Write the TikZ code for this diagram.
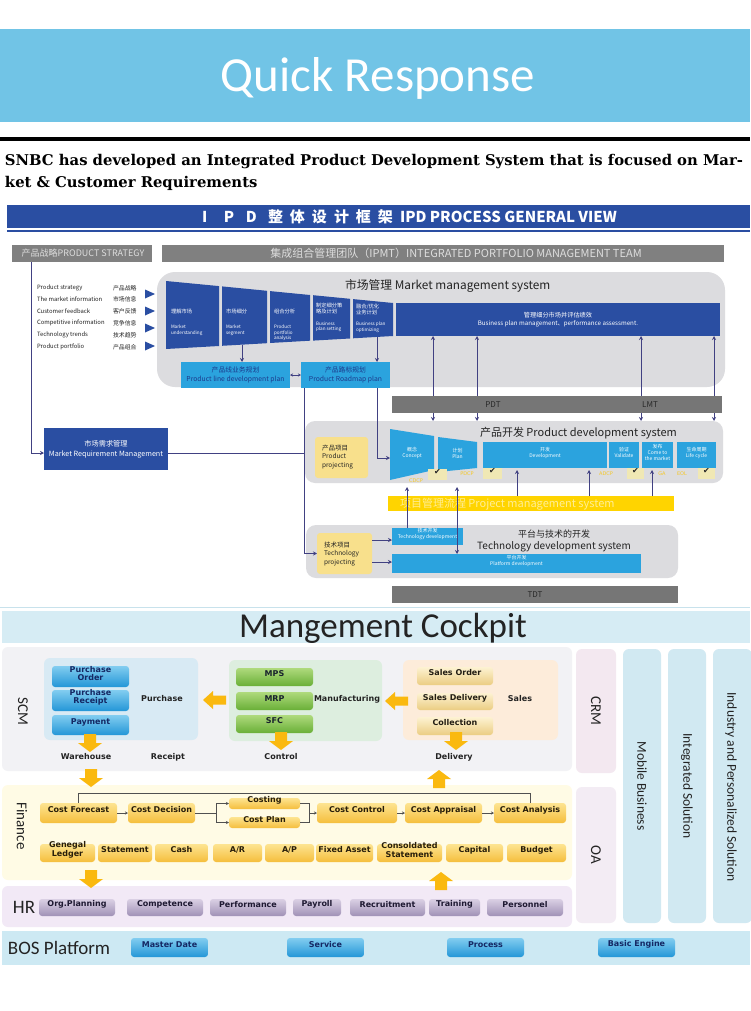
\documentclass[tikz,border=0pt]{standalone}
\usepackage{fontspec}
\setmainfont{Carlito}
\newfontfamily\cjk{Noto Sans CJK SC}
\newfontfamily\dvs{DejaVu Sans}
\newfontfamily\dvserif{DejaVu Serif}
\usetikzlibrary{arrows.meta,fit,calc}
\newcommand\fsz[2]{\fontsize{#1}{#2}\selectfont}
\newcommand\cel[1]{\makebox[22pt][l]{#1}}
\definecolor{qblue}{RGB}{113,196,230}
\definecolor{ipdblue}{RGB}{42,78,162}
\definecolor{hdrgray}{RGB}{128,128,128}
\definecolor{hdrtxt}{RGB}{222,222,222}
\definecolor{bggray}{RGB}{220,220,223}
\definecolor{lblue}{RGB}{43,163,222}
\definecolor{lbtxt}{RGB}{28,58,140}
\definecolor{pyellow}{RGB}{248,224,140}
\definecolor{pmyellow}{RGB}{255,212,0}
\definecolor{pmtxt}{RGB}{255,238,150}
\definecolor{pdtgray}{RGB}{118,118,118}
\definecolor{pdttxt}{RGB}{40,40,40}
\definecolor{linec}{RGB}{65,65,130}
\definecolor{txtdark}{RGB}{35,35,35}
\definecolor{chkfill}{RGB}{240,232,180}
\definecolor{msyellow}{RGB}{245,200,40}
\definecolor{sepc}{RGB}{200,226,236}
\definecolor{ckband}{RGB}{214,236,244}
\definecolor{scmbg}{RGB}{242,242,245}
\definecolor{purbg}{RGB}{216,234,244}
\definecolor{manbg}{RGB}{221,238,223}
\definecolor{salbg}{RGB}{253,236,218}
\definecolor{finbg}{RGB}{255,251,229}
\definecolor{hrbg}{RGB}{242,233,246}
\definecolor{bosbg}{RGB}{205,233,243}
\definecolor{crmbg}{RGB}{243,232,240}
\definecolor{oabg}{RGB}{243,236,244}
\definecolor{colbg}{RGB}{209,233,242}
\definecolor{yarrow}{RGB}{250,185,15}
\definecolor{bba}{RGB}{130,205,240}
\definecolor{bbb}{RGB}{35,150,215}
\definecolor{bbtxt}{RGB}{20,40,100}
\definecolor{gba}{RGB}{175,218,125}
\definecolor{gbb}{RGB}{105,175,55}
\definecolor{gbtxt}{RGB}{25,35,45}
\definecolor{sba}{RGB}{253,242,210}
\definecolor{sbb}{RGB}{235,205,130}
\definecolor{sbtxt}{RGB}{35,30,20}
\definecolor{fba}{RGB}{253,228,145}
\definecolor{fbb}{RGB}{245,190,60}
\definecolor{fbtxt}{RGB}{40,30,10}
\definecolor{hba}{RGB}{218,208,228}
\definecolor{hbb}{RGB}{160,145,182}
\definecolor{hbtxt}{RGB}{30,25,50}
\definecolor{flowc}{RGB}{80,80,80}
\newcommand\fatL[2]{\fill[yarrow] (#1,#2) -- ++(10,-9) -- ++(0,4.5) -- ++(13,0) -- ++(0,9) -- ++(-13,0) -- ++(0,4.5) -- cycle;}
\newcommand\fatD[2]{\fill[yarrow] (#1,#2) -- ++(-12,-9) -- ++(6,0) -- ++(0,-9) -- ++(12,0) -- ++(0,9) -- ++(6,0) -- cycle;}
\newcommand\fatU[2]{\fill[yarrow] (#1,#2) -- ++(-12,9) -- ++(6,0) -- ++(0,9) -- ++(12,0) -- ++(0,-9) -- ++(6,0) -- cycle;}
\begin{document}
\begin{tikzpicture}[x=1pt,y=-1pt,
  bx/.style={inner sep=0pt,outer sep=0pt},
  ipdw/.style={bx,font=\cjk,text=white,align=center},
  ln/.style={draw=linec,line width=0.9pt},
  arr/.style={ln,arrows={-Stealth[length=4pt,width=4pt]}},
  darr/.style={ln,arrows={Stealth[length=4pt,width=4pt]-Stealth[length=4pt,width=4pt]}},
  grayhdr/.style={bx,fill=hdrgray},
  lbbox/.style={bx,fill=lblue,text=white,font=\cjk\fsz{5}{6},align=center},
  pyel/.style={bx,fill=pyellow,rounded corners=3pt},
  grp/.style={bx,rounded corners=6pt},
  btn/.style={bx,rounded corners=3pt,font=\dvs\bfseries\fsz{8}{8.4},align=center},
  bbtn/.style={btn,top color=bba,bottom color=bbb,text=bbtxt},
  gbtn/.style={btn,top color=gba,bottom color=gbb,text=gbtxt},
  sbtn/.style={btn,top color=sba,bottom color=sbb,text=sbtxt},
  fbtn/.style={btn,top color=fba,bottom color=fbb,text=fbtxt},
  hbtn/.style={btn,top color=hba,bottom color=hbb,text=hbtxt},
  lbl/.style={bx,font=\dvs\bfseries\fsz{8}{8},text=txtdark},
  sect/.style={bx,font=\fsz{15}{15},text=txtdark},
  col/.style={bx,font=\fsz{13.5}{13.5},text=txtdark},
  flow/.style={draw=flowc,line width=0.7pt},
  farr/.style={flow,arrows={-Stealth[length=3pt,width=3pt]}},
  chk/.style={bx,fill=chkfill,font=\dvs\fsz{8}{8},text=txtdark},
  ms/.style={bx,font=\dvs\fsz{5}{5},text=msyellow},
  blk/.style={bx,font=\cjk\fsz{5.3}{6.2},text=white,align=left,anchor=north west},
  blke/.style={bx,font=\cjk\fsz{4.6}{5.4},text=white,align=left,anchor=north west},
]
\useasboundingbox (0,0) rectangle (750,1011);
\fill[white] (0,0) rectangle (750,1011);

% ---------- header ----------
\fill[qblue] (0,29) rectangle (750,122);
\node[bx,text=white,font=\fsz{49}{49}] (qr) at (378,78) {Quick Response};
\fill[black] (0,137) rectangle (750,141);
\node[bx,anchor=base west,font=\dvserif\bfseries\fsz{14.8}{14.8}] (snbc1) at (5,166) {SNBC has developed an Integrated Product Development System that is focused on Mar-};
\node[bx,anchor=base west,font=\dvserif\bfseries\fsz{14.8}{14.8}] (snbc2) at (5,187) {ket \& Customer Requirements};

% ---------- IPD banner ----------
\node[bx,fill=ipdblue,fit={(7,205)(750,228)}] (ipdbar) {};
\node[bx,anchor=west,text=white,font=\cjk\bfseries\fsz{15}{15}] (ipdt) at (202,216.5) {\cel{I}\cel{P}\cel{D}\cel{整}\cel{体}\cel{设}\cel{计}\cel{框}\cel{架}IPD PROCESS GENERAL VIEW};
\fill[ipdblue] (7,230) rectangle (750,232);

\node[grayhdr,fit={(12,245)(152,262)}] (ps) {};
\node[bx,text=hdrtxt,font=\cjk\fsz{9}{9}] (pst) at (83,253.5) {产品战略PRODUCT STRATEGY};
\node[grayhdr,fit={(162,245)(724,262)}] (ipmt) {};
\node[bx,text=hdrtxt,font=\cjk\fsz{11}{11}] (ipmtt) at (456,253.5) {集成组合管理团队（IPMT）INTEGRATED PORTFOLIO MANAGEMENT TEAM};

% left list
\foreach \y/\e/\c [count=\i] in {288/Product strategy/产品战略,299.5/The market information/市场信息,311/Customer feedback/客户反馈,323/Competitive information/竞争信息,335/Technology trends/技术趋势,347/Product portfolio/产品组合}{
  \node[bx,anchor=west,font=\cjk\fsz{5.9}{5.9},text=txtdark] (le\i) at (37,\y) {\e};
  \node[bx,anchor=west,font=\cjk\fsz{5.9}{5.9},text=txtdark] (lc\i) at (113,\y) {\c};
}
\foreach \y in {294,311,328,346}{
  \fill[ipdblue] (145,\y-4.5) -- (155,\y) -- (145,\y+4.5) -- cycle;
}

% market management system
\node[bx,fill=bggray,rounded corners=18pt,fit={(157,272)(725,387)}] (mms) {};
\node[bx,anchor=west,font=\cjk\fsz{11.8}{11.8},text=txtdark] (mmst) at (345,286) {市场管理 Market management system};
\fill[ipdblue] (166,281) -- (219,286.1) -- (219,346) -- (166,349) -- cycle;
\fill[ipdblue] (222,286.4) -- (267,290.8) -- (267,343.2) -- (222,345.8) -- cycle;
\fill[ipdblue] (270,291.1) -- (310,295) -- (310,340.7) -- (270,343) -- cycle;
\fill[ipdblue] (313,295.2) -- (350,298.8) -- (350,338.5) -- (313,340.6) -- cycle;
\fill[ipdblue] (353,299.1) -- (393,303) -- (393,336) -- (353,338.3) -- cycle;
\node[blk] (b1c) at (171,309) {理解市场};
\node[blke] (b1e) at (171,325) {Market\\understanding};
\node[blk] (b2c) at (226,309) {市场细分};
\node[blke] (b2e) at (226,325) {Market\\segment};
\node[blk] (b3c) at (274,309) {组合分析};
\node[blke] (b3e) at (274,325) {Product\\portfolio\\analysis};
\node[blk] (b4c) at (316,303) {制定细分策\\略及计划};
\node[blke] (b4e) at (316,322) {Business\\plan setting};
\node[blk] (b5c) at (356,304) {融合/优化\\业务计划};
\node[blke] (b5e) at (356,322) {Business plan\\optimizing};
\node[bx,fill=ipdblue,fit={(396,303)(720,336)}] (bpm) {};
\node[ipdw,font=\cjk\fsz{6.2}{8.5}] (bpmt) at (bpm.center) {管理细分市场并评估绩效\\Business plan management、performance assessment.};
\coordinate (b2b) at (242,344.5);
\coordinate (b5b) at (377,337);

\node[bx,fill=lblue,fit={(181,362)(290,388)}] (pldp) {};
\node[bx,font=\cjk\fsz{6.8}{9},text=lbtxt,align=center] (pldpt) at (pldp.center) {产品线业务规划\\Product line development plan};
\node[bx,fill=lblue,fit={(301,362)(390,388)}] (prp) {};
\node[bx,font=\cjk\fsz{6.8}{9},text=lbtxt,align=center] (prpt) at (prp.center) {产品路标规划\\Product Roadmap plan};
\draw[arr] (b2b) -- (242,0 |- pldp.north);
\draw[arr] (b5b) -- (377,0 |- prp.north);
\draw[ln,arrows={Stealth[length=3pt,width=3pt]-Stealth[length=3pt,width=3pt]}] (pldp.east) -- (prp.west);

% market requirement management
\node[bx,fill=ipdblue,fit={(44,428)(168,470)}] (mrm) {};
\node[bx,font=\cjk\fsz{7.2}{10},text=white,align=center] (mrmt) at (mrm.center) {市场需求管理\\Market Requirement Management};
\draw[arr] (31,0 |- ps.south) |- ($(mrm.west)+(0,4)$);
\draw[ln] ($(mrm.east)+(0,4)$) -- (304,453);

% product development system
\node[bx,fill=bggray,rounded corners=10pt,fit={(305,421)(723,483)}] (pds) {};
\foreach \x in {433,477,641,714}{
  \draw[darr] (\x,0 |- bpm.south) -- (\x,0 |- pds.north);
}
\node[bx,fill=pdtgray,fit={(392,396)(722,413)}] (pdt) {};
\node[bx,font=\cjk\fsz{8}{8},text=pdttxt] (pdtt) at (493,404.5) {PDT};
\node[bx,font=\cjk\fsz{8}{8},text=pdttxt] (lmtt) at (650,404.5) {LMT};

\node[pyel,fit={(315,437)(368,478)}] (pp) {};
\node[bx,anchor=west,font=\cjk\fsz{6.5}{8.3},text=txtdark,align=left] (ppt) at (322,457) {产品项目\\Product\\projecting};
\node[bx,anchor=west,font=\cjk\fsz{11}{11},text=txtdark] (pdst) at (480,433) {产品开发 Product development system};
\fill[lblue] (390,429) -- (434,436) -- (434,470) -- (390,480) -- cycle;
\node[ipdw,font=\cjk\fsz{5}{6}] (concept) at (412,453) {概念\\Concept};
\fill[lblue] (438,437) -- (477,442) -- (477,468) -- (438,472) -- cycle;
\node[ipdw,font=\cjk\fsz{5}{6}] (plan) at (457.5,453) {计划\\Plan};
\coordinate (cpl) at (390,458);
\node[lbbox,fit={(483,442)(607,468)}] (dev) {开发\\Development};
\node[lbbox,fit={(609,442)(639,468)}] (val) {验证\\Validate};
\node[lbbox,fit={(642,442)(673,468)}] (ctm) {发布\\Come to\\the market};
\node[lbbox,fit={(677,442)(716,468)}] (lc) {生命周期\\Life cycle};
\node[chk,fit={(428,469)(447,480)}] (ck1) {✔};
\node[chk,fit={(483,468)(502,479)}] (ck2) {✔};
\node[chk,fit={(627,468)(644,479)}] (ck3) {✔};
\node[chk,fit={(698,468)(715,479)}] (ck4) {✔};
\node[ms] (m1) at (416,481) {CDCP};
\node[ms] (m2) at (467,473.5) {PDCP};
\node[ms] (m3) at (606,473.5) {ADCP};
\node[ms] (m4) at (662,473.5) {GA};
\node[ms] (m5) at (682,473.5) {EOL};
\draw[arr] (377,0 |- prp.south) |- (cpl);

% technology development system
\node[bx,fill=bggray,rounded corners=10pt,fit={(306,525)(678,578)}] (tds) {};
\node[pyel,fit={(317,533)(372,574)}] (tp) {};
\node[bx,anchor=west,font=\cjk\fsz{6.5}{8.3},text=txtdark,align=left] (tpt) at (324,554) {技术项目\\Technology\\projecting};
\node[lbbox,fit={(392,528)(463,545)}] (tdv) {技术开发\\Technology development};
\node[lbbox,fit={(392,554)(641,573)}] (pdv) {平台开发\\Platform development};
\node[bx,font=\cjk\fsz{9}{9},text=txtdark] (tdst1) at (554,534) {平台与技术的开发};
\node[bx,font=\cjk\fsz{10}{10},text=txtdark] (tdst2) at (554,546.5) {Technology development system};
\draw[arr] (tp.east |- 0,540) -- (tdv.west |- 0,540);
\draw[arr] (tp.east |- 0,562) -- (pdv.west |- 0,562);
\draw[arr] (304,0 |- prp.south) |- (tp.west);
\node[bx,fill=pdtgray,fit={(392,586)(678,603)}] (tdt) {};
\node[bx,font=\cjk\fsz{8}{8},text=pdttxt] (tdtt) at (tdt.center) {TDT};

% project management system
\node[bx,fill=pmyellow,fit={(388,496)(674,511)}] (pm) {};
\node[bx,anchor=west,font=\cjk\fsz{11}{11},text=pmtxt] (pmt) at (400,504) {项目管理流程 Project management system};
\draw[arr] (407,0 |- tdv.north) -- (407,487);
\draw[darr] (457,487) -- (457,0 |- pdv.north);
\foreach \x in {517,589,652}{
  \draw[arr] (\x,0 |- pm.north) -- (\x,470);
}

\draw[sepc,line width=1pt] (0,607.5) -- (750,607.5);

% ---------- management cockpit ----------
\node[bx,fill=ckband,fit={(2,611)(750,643)}] (ck) {};
\node[bx,font=\fsz{35}{35},text=txtdark] (ckt) at (383,628) {Mangement Cockpit};

\node[grp,fill=scmbg,fit={(2,647)(572,771)}] (scm) {};
\node[sect,rotate=-90] (scmt) at (23,711) {SCM};
\node[grp,fill=purbg,fit={(44,658)(198,740)}] (pur) {};
\node[bbtn,fit={(52,666)(129,687)}] (po) {Purchase\\Order};
\node[bbtn,fit={(52,690)(129,711)}] (pr) {Purchase\\Receipt};
\node[bbtn,fit={(52,715)(129,735)}] (pay) {Payment};
\node[lbl] (purt) at (162,699) {Purchase};

\node[grp,fill=manbg,fit={(229,660)(382,741)}] (man) {};
\node[gbtn,fit={(236,668)(313,686)}] (mps) {MPS};
\node[gbtn,fit={(236,692)(313,710)}] (mrp) {MRP};
\node[gbtn,fit={(236,715)(313,733)}] (sfc) {SFC};
\node[lbl] (mant) at (347,699) {Manufacturing};

\node[grp,fill=salbg,fit={(403,660)(558,740)}] (sal) {};
\node[sbtn,fit={(417,667)(493,685)}] (so) {Sales Order};
\node[sbtn,fit={(417,693)(493,710)}] (sd) {Sales Delivery};
\node[sbtn,fit={(417,717)(493,735)}] (col) {Collection};
\node[lbl] (salt) at (520,699) {Sales};

\fatL{203}{700}
\fatL{385}{701}
\fatD{90}{752}
\fatD{281}{750}
\fatD{456}{750}
\node[lbl] (wh) at (86,757) {Warehouse};
\node[lbl] (rc) at (168,757) {Receipt};
\node[lbl] (ctl) at (281,757) {Control};
\node[lbl] (dlv) at (454,757) {Delivery};

% finance
\node[grp,fill=finbg,fit={(2,785)(572,880)}] (fin) {};
\fatD{91}{787}
\fatU{439}{770}
\node[sect,rotate=-90] (fint) at (22,826) {Finance};
\node[fbtn,fit={(40,803)(117,823)}] (cf) {Cost Forecast};
\node[fbtn,fit={(128,803)(195,823)}] (cd) {Cost Decision};
\node[fbtn,fit={(229,798)(300,809)}] (cst) {Costing};
\node[fbtn,fit={(229,817)(300,828)}] (cpl2) {Cost Plan};
\node[fbtn,fit={(317,803)(397,823)}] (cc) {Cost Control};
\node[fbtn,fit={(405,803)(482,823)}] (cap) {Cost Appraisal};
\node[fbtn,fit={(494,803)(566,823)}] (can) {Cost Analysis};
\draw[farr] (cf.east) -- (cd.west);
\draw[flow] (cd.east) -- (216,813);
\draw[flow] (216,0 |- cst.west) -- (216,0 |- cpl2.west);
\draw[farr] (216,0 |- cst.west) -- (cst.west);
\draw[farr] (216,0 |- cpl2.west) -- (cpl2.west);
\draw[flow] (cst.east) -- (309,0 |- cst.east) -- (309,0 |- cpl2.east) -- (cpl2.east);
\draw[farr] (309,813) -- (cc.west);
\draw[farr] (cc.east) -- (cap.west);
\draw[farr] (cap.east) -- (can.west);
\draw[flow] (can.north) -- (can.north |- 0,793) -| (cf.north);

\node[fbtn,fit={(40,844)(95,862)}] (gl) {Genegal\\Ledger};
\node[fbtn,fit={(98,844)(152,862)}] (st) {Statement};
\node[fbtn,fit={(155,844)(208,862)}] (cash) {Cash};
\node[fbtn,fit={(213,844)(262,862)}] (ar) {A/R};
\node[fbtn,fit={(265,844)(314,862)}] (ap) {A/P};
\node[fbtn,fit={(316,844)(373,862)}] (fa) {Fixed Asset};
\node[fbtn,fit={(377,844)(442,862)}] (cs) {Consoldated\\Statement};
\node[fbtn,fit={(446,844)(503,862)}] (capi) {Capital};
\node[fbtn,fit={(507,844)(566,862)}] (bud) {Budget};

% HR
\node[grp,fill=hrbg,fit={(2,886)(572,927)}] (hr) {};
\fatD{91}{888}
\fatU{441}{872}
\node[bx,font=\fsz{19}{19},text=txtdark] (hrt) at (24,907) {HR};
\node[hbtn,fit={(39,899)(115,916)}] (orgp) {Org.Planning};
\node[hbtn,fit={(127,899)(203,916)}] (comp) {Competence};
\node[hbtn,fit={(210,899)(286,916)}] (perf) {Performance};
\node[hbtn,fit={(293,899)(341,916)}] (payr) {Payroll};
\node[hbtn,fit={(350,899)(425,916)}] (recr) {Recruitment};
\node[hbtn,fit={(429,899)(480,916)}] (train) {Training};
\node[hbtn,fit={(487,899)(563,916)}] (pers) {Personnel};

% BOS
\node[bx,fill=bosbg,fit={(2,931)(750,965)}] (bos) {};
\node[bx,anchor=west,font=\fsz{19}{19},text=txtdark] (bost) at (8,948) {BOS Platform};
\node[bbtn,fit={(131,938)(208,957)}] (md) {Master Date};
\node[bbtn,fit={(287,938)(364,957)}] (srv) {Service};
\node[bbtn,fit={(447,938)(524,957)}] (proc) {Process};
\node[bbtn,fit={(598,938)(675,957)}] (be) {Basic Engine};

% right columns
\node[grp,fill=crmbg,fit={(576,649)(616,773)}] (crm) {};
\node[sect,rotate=-90] (crmt) at (crm.center) {CRM};
\node[grp,fill=oabg,fit={(576,787)(616,923)}] (oa) {};
\node[sect,rotate=-90] (oat) at (oa.center) {OA};
\node[grp,fill=colbg,fit={(623,649)(661,923)}] (mob) {};
\node[col,rotate=-90] (mobt) at (mob.center) {Mobile Business};
\node[grp,fill=colbg,fit={(668,649)(706,923)}] (integ) {};
\node[col,rotate=-90] (integt) at (integ.center) {Integrated Solution};
\node[grp,fill=colbg,fit={(713,649)(752,923)}] (ind) {};
\node[col,rotate=-90] (indt) at (731,787) {Industry and Personalized Solution};
\end{tikzpicture}
\end{document}
